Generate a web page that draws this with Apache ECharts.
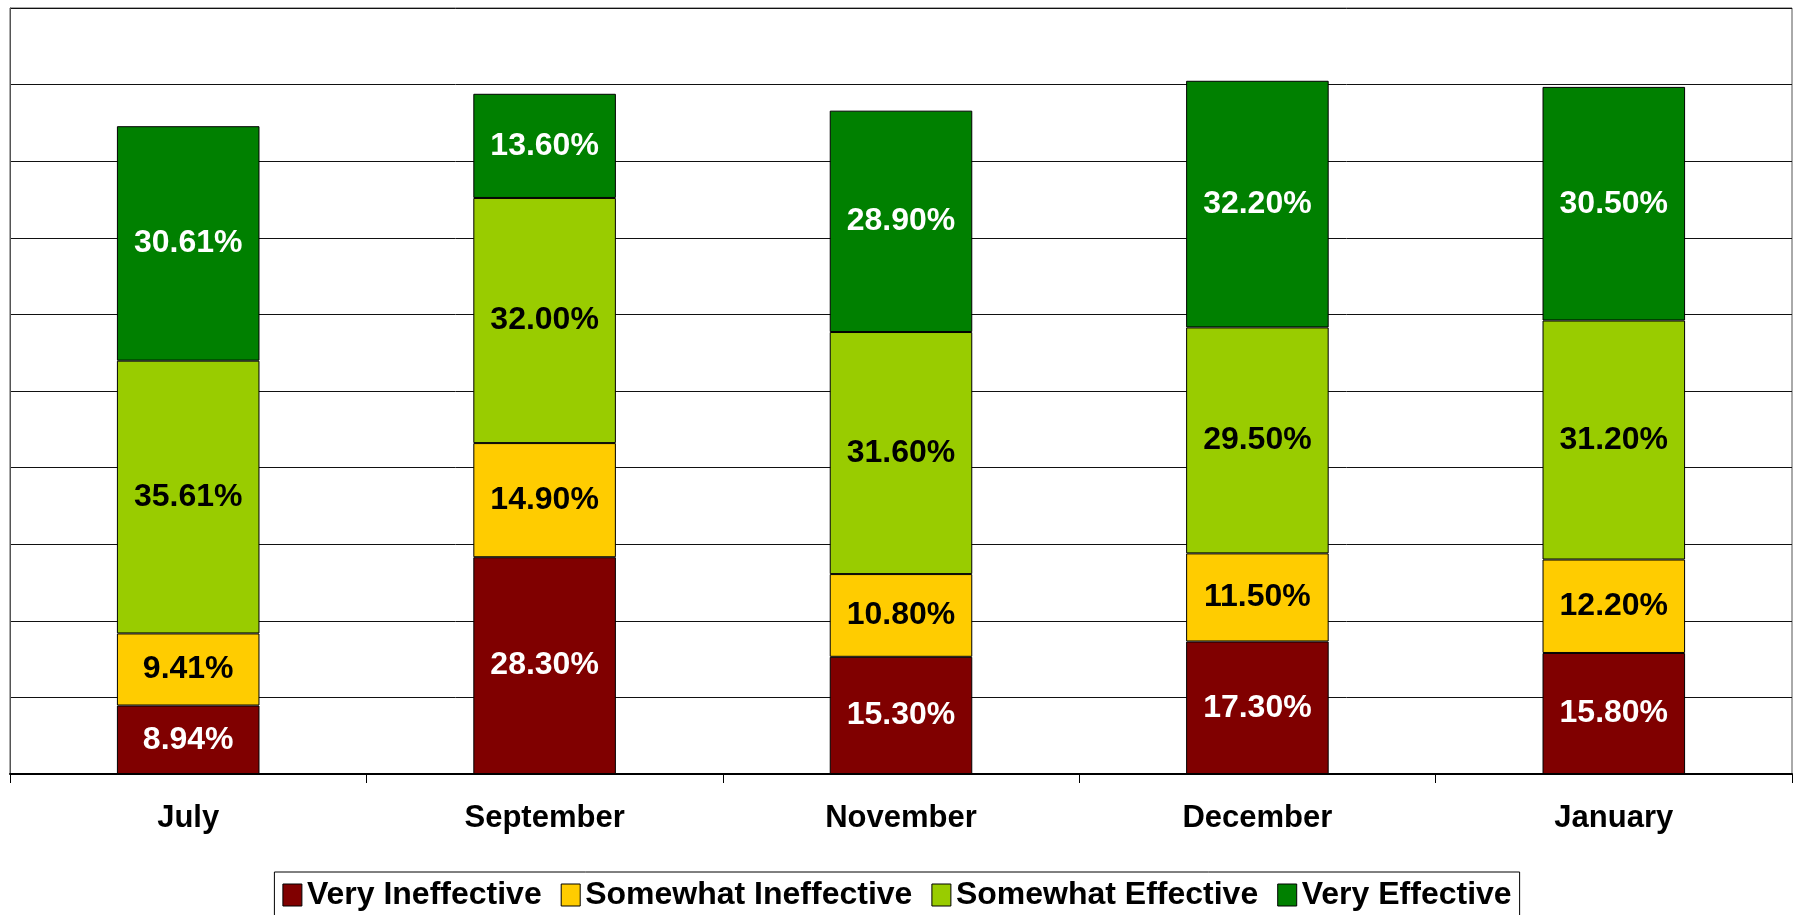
<!DOCTYPE html>
<html>
<head>
<meta charset="utf-8">
<script src="https://cdn.jsdelivr.net/npm/echarts@6/dist/echarts.min.js"></script>
<style>
  html, body { margin: 0; padding: 0; background: #fff; }
  #chart { width: 1794px; height: 915px; }
</style>
</head>
<body>
<div id="chart"></div>
<script>
// data
const months = ['July', 'September', 'November', 'December', 'January']
const veryIneffective = [8.94, 28.30, 15.30, 17.30, 15.80]
const somewhatIneffective = [9.41, 14.90, 10.80, 11.50, 12.20]
const somewhatEffective = [35.61, 32.00, 31.60, 29.50, 31.20]
const veryEffective = [30.61, 13.60, 28.90, 32.20, 30.50]

const font = '"Liberation Sans", Arial, sans-serif'

const chart = echarts.init(document.getElementById('chart'))

function makeSeries (name, data, color, labelColor) {
  return {
    name: name,
    type: 'bar',
    stack: 'total',
    barWidth: '40%',
    data: data,
    itemStyle: { color: color, borderColor: '#000', borderWidth: 1 },
    label: {
      show: true,
      position: 'inside',
      color: labelColor,
      fontFamily: font,
      fontWeight: 'bold',
      fontSize: 32,
      formatter: p => p.value.toFixed(2) + '%'
    }
  }
}

const option = {
  animation: false,
  backgroundColor: '#fff',
  grid: {
    left: 10,
    right: 2,
    top: 8,
    bottom: 141,
    show: true,
    borderColor: '#555',
    borderWidth: 1
  },
  legend: {
    bottom: -14,
    left: 'center',
    itemWidth: 19,
    itemHeight: 22,
    itemGap: 19,
    padding: [7, 8, 18, 8],
    borderColor: '#000',
    borderWidth: 1,
    icon: 'rect',
    itemStyle: { borderColor: '#000', borderWidth: 1 },
    textStyle: { fontFamily: font, fontWeight: 'bold', fontSize: 32, color: '#000' }
  },
  xAxis: {
    type: 'category',
    data: months,
    axisLine: { lineStyle: { color: '#000', width: 2 } },
    axisTick: { show: true, length: 9, lineStyle: { color: '#000' } },
    axisLabel: {
      margin: 29,
      color: '#000',
      fontFamily: font,
      fontWeight: 'bold',
      fontSize: 31
    }
  },
  yAxis: {
    type: 'value',
    min: 0,
    max: 100,
    interval: 10,
    axisLabel: { show: false },
    axisTick: { show: false },
    axisLine: { show: true, lineStyle: { color: '#555' } },
    splitLine: { lineStyle: { color: '#111', width: 1 } }
  },
  series: [
    makeSeries('Very Ineffective', veryIneffective, '#800000', '#fff'),
    makeSeries('Somewhat Ineffective', somewhatIneffective, '#FFCC00', '#000'),
    makeSeries('Somewhat Effective', somewhatEffective, '#99CC00', '#000'),
    makeSeries('Very Effective', veryEffective, '#008000', '#fff')
  ]
}

chart.setOption(option)
</script>
</body>
</html>
